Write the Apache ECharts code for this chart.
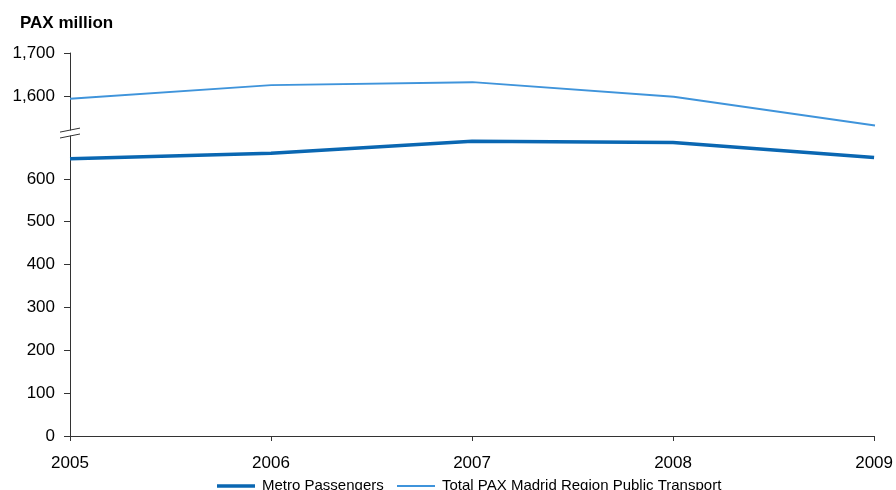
<!DOCTYPE html>
<html>
<head>
<meta charset="utf-8">
<script src="https://cdn.jsdelivr.net/npm/echarts@6/dist/echarts.min.js"></script>
<style>
  html, body { margin: 0; padding: 0; background: #fff; }
  #chart { width: 896px; height: 490px; }
</style>
</head>
<body>
<div id="chart"></div>
<script>
// Madrid passenger volumes, PAX million
const years = ['2005', '2006', '2007', '2008', '2009'];
const metroPassengers = [647, 660, 688, 685, 650];
const totalRegionPax = [1593, 1625, 1632, 1598, 1531];
const upperTicks = [1600, 1700];
const lowerTicks = [0, 100, 200, 300, 400, 500, 600];

const METRO_NAME = 'Metro Passengers';
const TOTAL_NAME = 'Total PAX Madrid Region Public Transport';

const FONT = '"Liberation Sans", Arial, Helvetica, sans-serif';
const METRO_COLOR = '#0A67B2';
const TOTAL_COLOR = '#3F94DB';
const AXIS_COLOR = '#333';

const fmt = v => v.toLocaleString('en-US');

const chart = echarts.init(document.getElementById('chart'), null, { renderer: 'canvas' });

const yAxisCommon = {
  type: 'value',
  splitLine: { show: false },
  axisLine: { show: true, lineStyle: { color: AXIS_COLOR, width: 1 } },
  axisTick: { show: true, length: 6, lineStyle: { color: AXIS_COLOR } },
  axisLabel: { color: '#000', fontFamily: FONT, fontSize: 17, margin: 15, formatter: fmt }
};

// One legend block per series so each swatch keeps its own line thickness
const legendItem = (name, color, thickness, left) => ({
  left: left, top: 473.5,
  itemWidth: 38, itemHeight: thickness,
  icon: 'rect',
  itemStyle: { color: color, borderWidth: 0 },
  textStyle: { fontFamily: FONT, fontSize: 15, color: '#000', padding: [0, 0, 0, 2] },
  data: [{ name: name, icon: 'rect', itemStyle: { color: color, borderWidth: 0 } }]
});

chart.setOption({
  animation: false,
  title: {
    text: 'PAX million',
    left: 15, top: 9.5,
    textStyle: { fontFamily: FONT, fontSize: 17, fontWeight: 'bold', color: '#000' }
  },
  legend: [
    legendItem(METRO_NAME, METRO_COLOR, 3.5, 212),
    legendItem(TOTAL_NAME, TOTAL_COLOR, 2, 392)
  ],
  grid: [
    { left: 70, right: 21, top: 53, height: 77.1 },
    { left: 70, right: 21, top: 136, height: 300 }
  ],
  xAxis: [
    {
      type: 'category', gridIndex: 0, data: years, boundaryGap: false,
      show: false
    },
    {
      type: 'category', gridIndex: 1, data: years, boundaryGap: false,
      axisLine: { lineStyle: { color: AXIS_COLOR, width: 1 } },
      axisTick: { show: true, length: 5, alignWithLabel: true, lineStyle: { color: AXIS_COLOR } },
      axisLabel: { color: '#000', fontFamily: FONT, fontSize: 17, margin: 19, interval: 0 }
    }
  ],
  yAxis: [
    Object.assign({}, yAxisCommon, {
      gridIndex: 0, min: 1520, max: 1700,
      axisTick: Object.assign({}, yAxisCommon.axisTick, { customValues: upperTicks }),
      axisLabel: Object.assign({}, yAxisCommon.axisLabel, { customValues: upperTicks })
    }),
    Object.assign({}, yAxisCommon, {
      gridIndex: 1, min: 0, max: 700,
      axisTick: Object.assign({}, yAxisCommon.axisTick, { customValues: lowerTicks }),
      axisLabel: Object.assign({}, yAxisCommon.axisLabel, { customValues: lowerTicks })
    })
  ],
  series: [
    {
      name: METRO_NAME, type: 'line',
      xAxisIndex: 1, yAxisIndex: 1,
      data: metroPassengers,
      symbol: 'none',
      color: METRO_COLOR,
      lineStyle: { color: METRO_COLOR, width: 3.5 },
      itemStyle: { color: METRO_COLOR }
    },
    {
      name: TOTAL_NAME, type: 'line',
      xAxisIndex: 0, yAxisIndex: 0,
      data: totalRegionPax,
      symbol: 'none',
      color: TOTAL_COLOR,
      lineStyle: { color: TOTAL_COLOR, width: 2 },
      itemStyle: { color: TOTAL_COLOR }
    }
  ]
});

// Axis-break slashes at the end of each y-axis segment
function drawBreak() {
  const upperBottom = chart.convertToPixel({ yAxisIndex: 0 }, 1520);
  const lowerTop = chart.convertToPixel({ yAxisIndex: 1 }, 700);
  const axisX = chart.convertToPixel({ xAxisIndex: 1 }, 0);
  const half = 10, rise = 2;
  const slash = y => ({
    type: 'line',
    shape: { x1: axisX - half, y1: y + rise, x2: axisX + half, y2: y - rise },
    style: { stroke: AXIS_COLOR, lineWidth: 1 },
    z: 10
  });
  chart.setOption({ graphic: [slash(upperBottom), slash(lowerTop)] });
}
drawBreak();
</script>
</body>
</html>
